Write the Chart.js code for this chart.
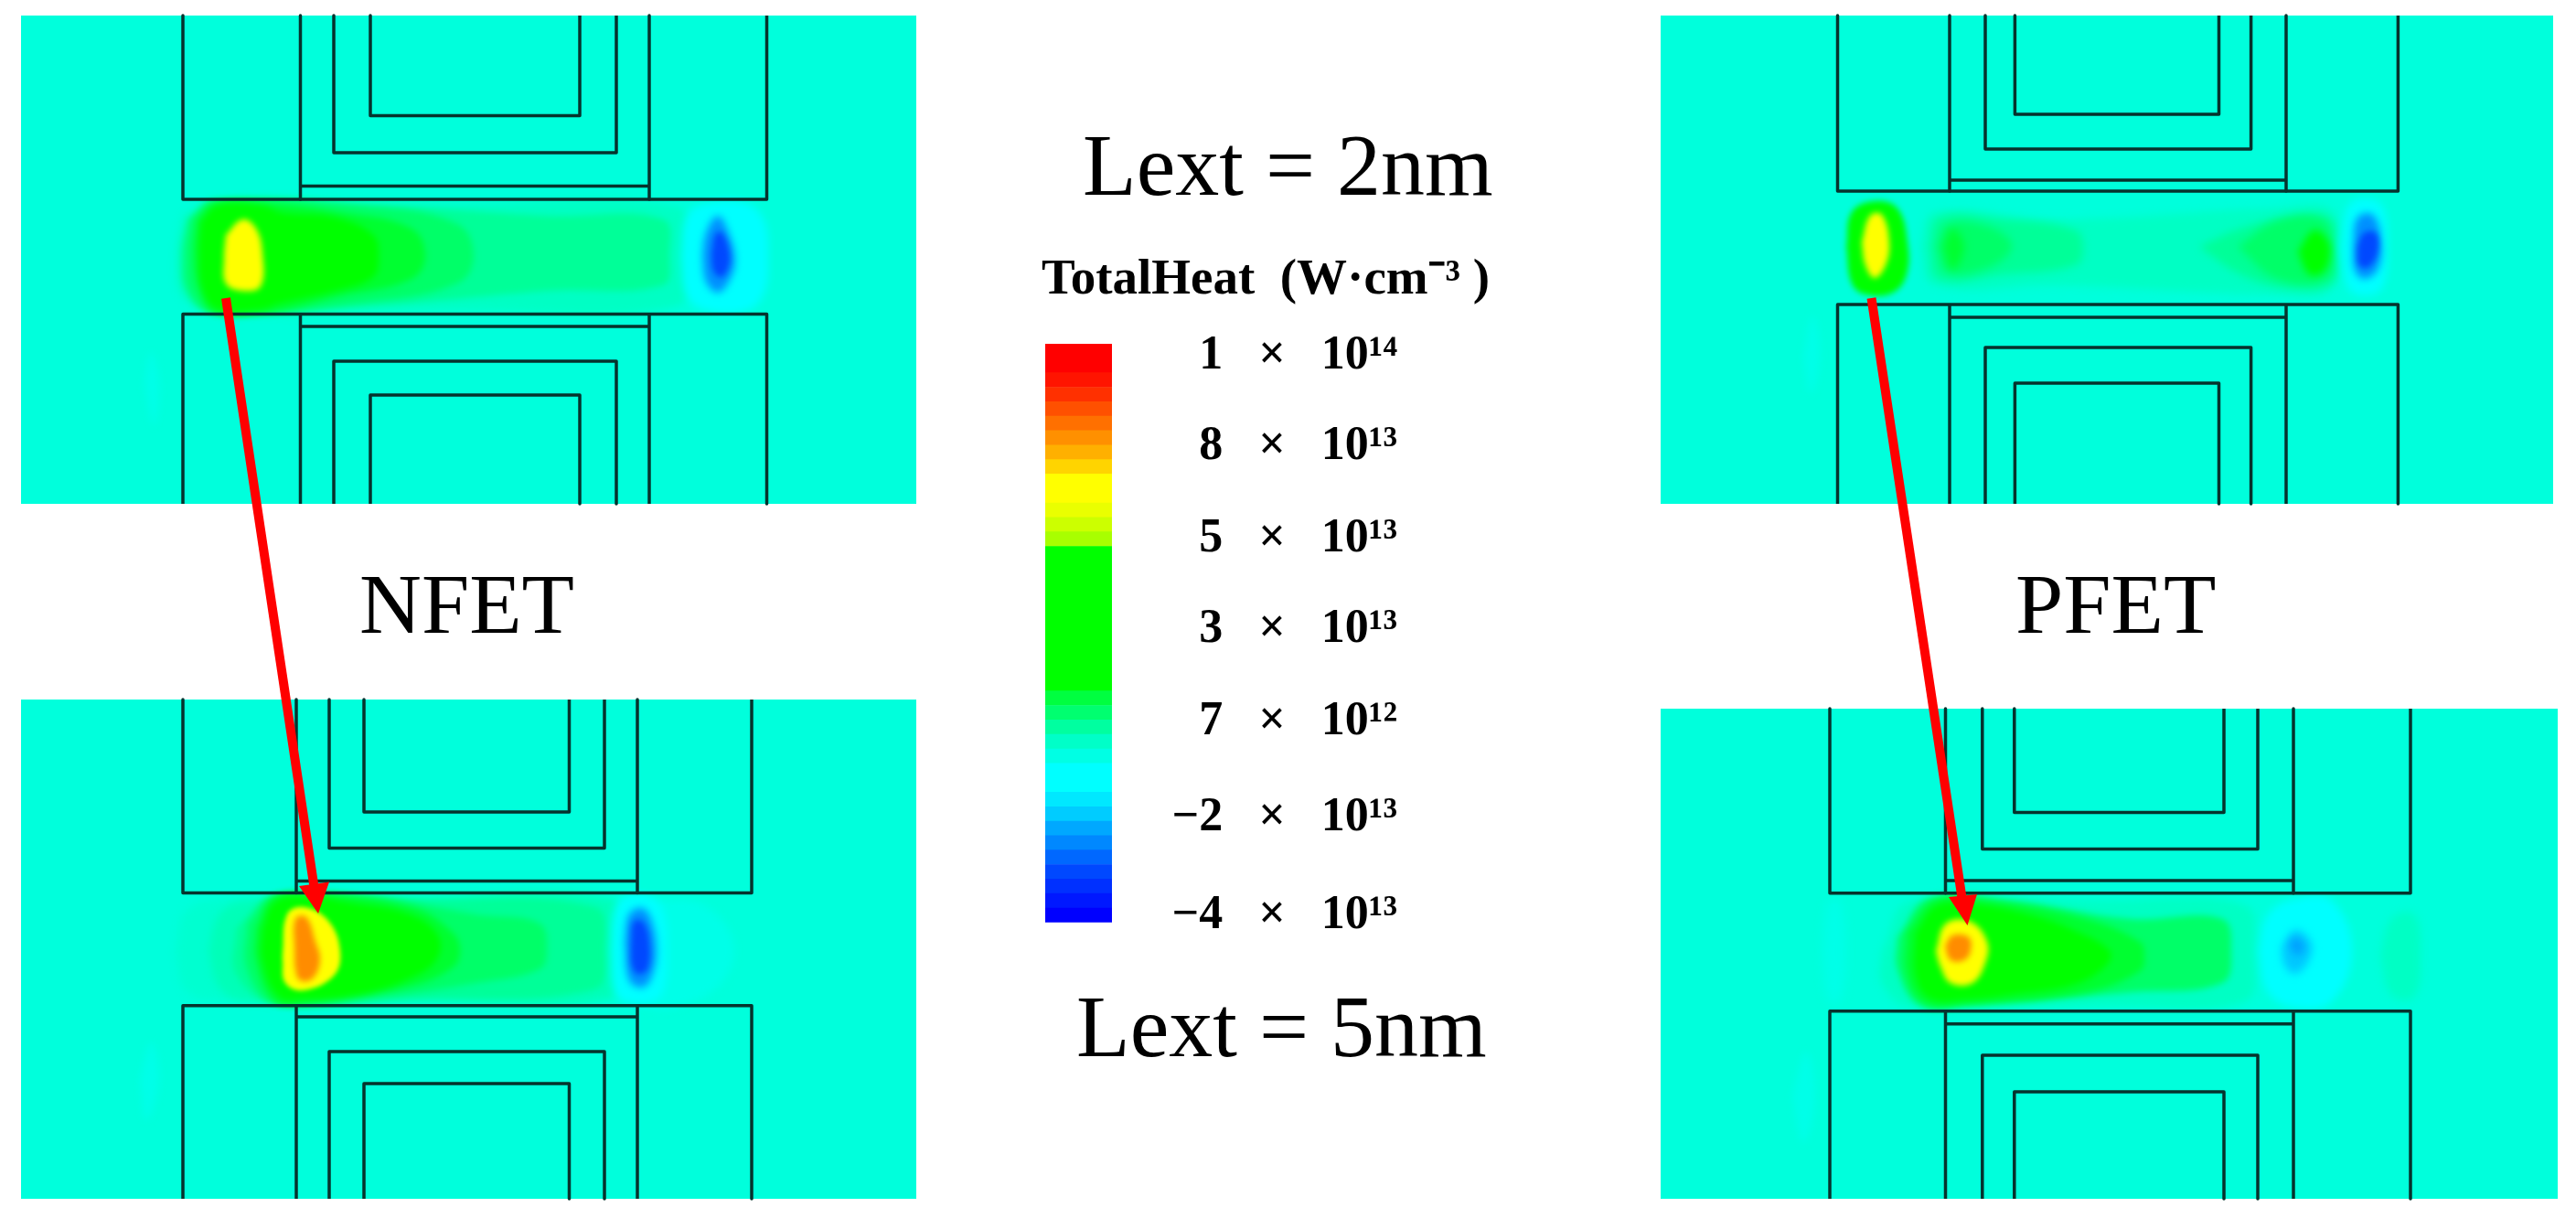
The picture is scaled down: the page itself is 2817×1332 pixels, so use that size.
<!DOCTYPE html>
<html><head><meta charset="utf-8">
<style>html,body{margin:0;padding:0;background:#fff;width:2817px;height:1332px;overflow:hidden}canvas{position:absolute;display:block}</style>
<script src="https://cdn.jsdelivr.net/npm/chart.js@4"></script>
</head><body>
<canvas id="main" width="2817" height="1332" style="left:0;top:0"></canvas>
<canvas id="bar" width="428" height="700" style="left:1100px;top:340px"></canvas>
<script>
// ---- level colours of the heat field
const C_FAINT='#00ffc4', C_PALE='#00ff98', C_MID='#00ff68', C_NEAR='#00ff30', C_GREEN='#00ff00',
      C_YELLOW='#ffff00', C_ORANGE='#ff8c00', C_CYAN='#00ffff', C_HALO='#00ffe8', C_SKY='#0090ff', C_BLUE='#0048ff';
const PANEL_COLOR='#00ffdc', LINE_COLOR='#06332d', ARROW_COLOR='#ff0000';

// ---- panels [left,right,top,bottom]
const panelNfet2=[23,1002,17,551], panelNfet5=[23,1002,765,1311], panelPfet2=[1816,2792,17,551], panelPfet5=[1816,2797,775,1311];

// ---- device outline positions: eight verticals, then upper (bottom,thin,second,inner) and lower (top,thin,second,inner) rows
const vNfet2=[200,328.5,365,405,634,674,710,838.5], uNfet2=[218,203.6,167,126.5], lNfet2=[343.5,357,395,432];
const vNfet5=[200,324,360,398,622.5,661,697,822],   uNfet5=[976.4,963.4,927.4,888], lNfet5=[1099.7,1112,1150,1185];
const vPfet2=[2009.5,2132,2171,2203.4,2426.5,2461.6,2500,2622.4], uPfet2=[209,197,163,125], lPfet2=[333,347,380,419];
const vPfet5=[2001,2127.5,2167.8,2202.8,2432,2469,2508,2636],     uPfet5=[976.7,963,928.5,888.4], lPfet5=[1105.8,1119.7,1154,1194];

// ---- heat contours, NFET Lext = 2nm
const n2Faint=[[200,235],[235,219],[500,222],[740,226],[752,280],[740,335],[500,340],[235,342],[200,325],[193,280]];
const n2Pale=[[205,240],[235,219],[400,224],[600,236],[725,240],[732,280],[725,312],[600,318],[400,335],[235,342],[205,322],[198,280]];
const n2Mid=[[208,240],[235,220],[400,226],[500,245],[518,280],[500,310],[400,330],[235,342],[208,320],[203,280]];
const n2Near=[[215,240],[235,222],[290,222],[370,232],[450,250],[465,280],[450,305],[370,324],[290,342],[235,342],[218,318],[212,280]];
const n2Green=[[220,243],[238,225],[287,225],[309,233],[367,238],[408,257],[414,280],[408,303],[367,318],[305,332],[287,338],[238,338],[222,317],[218,277]];
const n2Yellow=[[247,257],[265,240],[280,250],[287,277],[285,313],[265,318],[247,310],[245,283]];
const n2Cyan=[[745,280],[752,235],[775,222],[815,222],[835,240],[840,280],[835,322],[815,340],[775,340],[752,325]];
const n2Sky=[[768,280],[772,255],[785,236],[797,255],[804,285],[797,308],[785,320],[772,308]];
const n2Blue=[[778,278],[783,255],[790,255],[798,280],[794,298],[787,303],[780,295]];
const n2Halo=[[158,420],[165,385],[174,420],[168,465]];

// ---- heat contours, NFET Lext = 5nm
const n5Far=[[192,1040],[205,995],[260,982],[450,980],[670,982],[675,1040],[670,1092],[450,1096],[260,1095],[205,1085]];
const n5Faint=[[228,1040],[240,1000],[270,985],[450,982],[670,985],[675,1040],[670,1090],[450,1094],[270,1095],[240,1080]];
const n5Pale=[[258,1015],[300,980],[450,984],[650,992],[662,1040],[650,1082],[450,1092],[300,1097],[258,1065]];
const n5Mid=[[270,1010],[300,980],[400,980],[520,1000],[590,1010],[598,1040],[590,1060],[520,1075],[400,1092],[300,1097],[270,1060]];
const n5Near=[[280,1015],[298,982],[332,977],[450,992],[495,1020],[503,1040],[495,1058],[450,1078],[332,1097],[300,1095],[280,1050]];
const n5Green=[[287,1017],[300,987],[332,980],[381,987],[448,1000],[479,1023],[477,1050],[448,1070],[394,1087],[332,1093],[305,1090],[287,1050]];
const n5Yellow=[[309,1043],[314,1000],[332,992],[359,1007],[372,1040],[365,1067],[332,1083],[312,1075],[309,1050]];
const n5Orange=[[322,1040],[323,1005],[335,1003],[345,1030],[350,1050],[342,1070],[328,1072],[323,1060]];
const n5HaloWide=[[700,985],[770,990],[803,1040],[770,1090],[700,1095]];
const n5Cyan=[[668,1040],[672,995],[685,980],[710,980],[725,995],[730,1040],[725,1085],[710,1096],[685,1096],[672,1085]];
const n5Sky=[[683,1030],[688,1000],[702,993],[712,1005],[718,1040],[712,1070],[702,1080],[688,1072]];
const n5Blue=[[690,1035],[693,1008],[703,1008],[710,1030],[708,1060],[697,1065],[691,1055]];
const n5Halo=[[153,1180],[165,1140],[174,1180],[160,1225]];

// ---- heat contours, PFET Lext = 2nm
const p2Faint=[[2100,270],[2115,232],[2250,240],[2480,228],[2548,228],[2555,270],[2548,318],[2480,322],[2250,312],[2115,312]];
const p2PaleL=[[2110,270],[2120,238],[2190,240],[2270,252],[2278,272],[2270,290],[2190,300],[2120,305]];
const p2MidL=[[2118,270],[2130,245],[2175,248],[2200,268],[2180,290],[2130,298]];
const p2NearL=[[2125,270],[2135,250],[2148,270],[2135,295]];
const p2PaleR=[[2405,270],[2450,250],[2520,234],[2550,240],[2553,270],[2550,310],[2500,315],[2450,300]];
const p2MidR=[[2447,270],[2490,242],[2540,240],[2550,270],[2545,305],[2490,305]];
const p2GreenR=[[2513,275],[2530,252],[2545,262],[2548,280],[2540,298],[2525,300]];
const p2Green=[[2019,270],[2025,232],[2050,220],[2075,228],[2086,265],[2085,300],[2070,320],[2040,322],[2025,310]];
const p2Yellow=[[2036,265],[2045,236],[2058,235],[2066,265],[2062,290],[2050,304],[2040,290]];
const p2Cyan=[[2561,270],[2568,225],[2585,217],[2605,225],[2611,270],[2605,315],[2585,323],[2568,315]];
const p2Sky=[[2573,270],[2578,238],[2595,235],[2604,265],[2600,295],[2585,305],[2575,295]];
const p2Blue=[[2578,270],[2585,255],[2598,255],[2600,275],[2590,292],[2580,290]];
const p2Halo=[[1972,390],[1982,345],[1990,390],[1980,430]];

// ---- heat contours, PFET Lext = 5nm
const p5Faint=[[2058,1040],[2090,985],[2300,985],[2455,990],[2465,1040],[2455,1095],[2300,1100],[2090,1102],[2058,1075]];
const p5Mid=[[2075,1025],[2110,982],[2200,985],[2330,1005],[2430,1005],[2440,1040],[2430,1075],[2330,1085],[2151,1100],[2100,1100],[2075,1060]];
const p5Near=[[2085,1020],[2115,985],[2170,985],[2280,1005],[2340,1030],[2345,1045],[2340,1062],[2280,1085],[2151,1098],[2105,1097],[2085,1065]];
const p5Green=[[2095,1020],[2119,990],[2164,990],[2218,1000],[2267,1017],[2307,1040],[2302,1057],[2267,1077],[2204,1087],[2151,1093],[2111,1092],[2095,1067]];
const p5Yellow=[[2117,1040],[2128,1010],[2155,1008],[2173,1030],[2171,1053],[2157,1075],[2133,1075],[2122,1057]];
const p5Orange=[[2127,1035],[2135,1023],[2153,1025],[2155,1040],[2148,1050],[2133,1050]];
const p5Cyan=[[2470,1040],[2480,1000],[2510,983],[2550,985],[2572,1040],[2550,1095],[2510,1102],[2480,1085]];
const p5Sky=[[2495,1035],[2510,1017],[2527,1030],[2525,1050],[2510,1065],[2498,1055]];
const p5Blue=[[2503,1033],[2510,1025],[2520,1035],[2512,1045]];
const p5Right=[[2603,1045],[2615,1005],[2640,1000],[2647,1045],[2640,1090],[2615,1088]];
const p5Left=[[1993,1040],[2000,985],[2012,985],[2018,1040],[2012,1095],[2000,1095]];
const p5Halo=[[1960,1200],[1975,1150],[1985,1200],[1972,1250]];

// ---- arrows
const arrowNfetShaft=[[247,326],[343.5,970]], arrowNfetHead=[[327,969],[360,964.5],[348,999]];
const arrowPfetShaft=[[2046.5,326],[2146,985]], arrowPfetHead=[[2131,981],[2162,978],[2151.5,1012]];

// ---- annotation text
const noteLabels=['Lext = 2nm','Lext = 5nm','NFET','PFET','TotalHeat  (W·cm⁻³ )'];
const noteX=[1184,1177,393,2204,1139];
const noteY=[213,1155,692,692,321];
const noteFonts=['96px "Liberation Serif"','96px "Liberation Serif"','94px "Liberation Serif"','94px "Liberation Serif"','bold 55px "Liberation Serif"'];

// ---- colour bar
const tickLabels=['1   ×   10¹⁴','8   ×   10¹³','5   ×   10¹³','3   ×   10¹³','7   ×   10¹²','−2   ×   10¹³','−4   ×   10¹³'];
const tickPositions=[97.9,82.2,66.3,50.6,34.7,18,1.2];
const bandColors=['#ff0000','#ff0000','#ff1400','#ff3000','#ff5000','#ff7000','#ff9000','#ffb000','#ffd400','#ffff00','#ffff00','#eaff00','#ccff00','#a8ff00',
 '#00ff00','#00ff00','#00ff00','#00ff00','#00ff00','#00ff00','#00ff00','#00ff00','#00ff00','#00ff00',
 '#00ff40','#00ff70','#00ffa0','#00ffc8','#00ffe4','#00ffff','#00ffff','#00e8ff','#00ccff','#00a8ff','#0088ff','#0068ff','#0048ff','#0030ff','#0018ff','#0000ff'];
const bandHeight=2.5;

// ---- helpers: turn the arrays above into datasets
const toPts=a=>a.map(p=>({x:p[0],y:p[1]}));
const closed=a=>toPts(a.concat([a[0]]));
const all=[];
function add(ds){all.push(Object.assign({showLine:true,pointRadius:0,pointHoverRadius:0,clip:false},ds));}
function shape(a,color,blur,tension){add({data:closed(a),fill:'shape',backgroundColor:color,borderWidth:0,borderColor:'transparent',tension:tension,blur:blur});}
function rectOf(p){return [[p[0],p[2]],[p[1],p[2]],[p[1],p[3]],[p[0],p[3]]];}
function contour(list){list.forEach(l=>shape(l[0],l[1],l[2]||3.5,0.4));}
function poly(a){add({data:toPts(a),fill:false,borderColor:LINE_COLOR,borderWidth:3.5,tension:0,borderJoinStyle:'round',borderCapStyle:'butt'});}
function outlines(p,v,u,l){
  const t=p[2],b=p[3];
  poly([[v[0],t],[v[0],u[0]],[v[7],u[0]],[v[7],t]]);
  poly([[v[1],t],[v[1],u[0]]]); poly([[v[6],t],[v[6],u[0]]]);
  poly([[v[1],u[1]],[v[6],u[1]]]);
  poly([[v[2],t],[v[2],u[2]],[v[5],u[2]],[v[5],t]]);
  poly([[v[3],t],[v[3],u[3]],[v[4],u[3]],[v[4],t]]);
  poly([[v[0],b],[v[0],l[0]],[v[7],l[0]],[v[7],b]]);
  poly([[v[1],b],[v[1],l[0]]]); poly([[v[6],b],[v[6],l[0]]]);
  poly([[v[1],l[1]],[v[6],l[1]]]);
  poly([[v[2],b],[v[2],l[2]],[v[5],l[2]],[v[5],b]]);
  poly([[v[3],b],[v[3],l[3]],[v[4],l[3]],[v[4],b]]);
}
function arrow(sh,head){
  add({data:toPts(sh),fill:false,borderColor:ARROW_COLOR,borderWidth:10,tension:0});
  shape(head,ARROW_COLOR,0,0);
}

[panelNfet2,panelNfet5,panelPfet2,panelPfet5].forEach(p=>shape(rectOf(p),PANEL_COLOR,0,0));
contour([[n2Halo,C_HALO,4],[n2Faint,C_FAINT,5],[n2Pale,C_PALE],[n2Mid,C_MID],[n2Near,C_NEAR],[n2Green,C_GREEN],[n2Yellow,C_YELLOW,3],[n2Cyan,C_CYAN,5],[n2Sky,C_SKY,4],[n2Blue,C_BLUE,3]]);
contour([[n5Halo,C_HALO,4],[n5Far,'#00ffd0',5],[n5Faint,'#00ffb8',5],[n5Pale,C_PALE],[n5Mid,C_MID],[n5Near,C_NEAR],[n5Green,C_GREEN],[n5Yellow,C_YELLOW,2.5],[n5Orange,C_ORANGE,3],[n5HaloWide,C_HALO,5],[n5Cyan,C_CYAN,5],[n5Sky,C_SKY,4],[n5Blue,C_BLUE,3]]);
contour([[p2Halo,C_HALO,4],[p2Faint,C_FAINT,5],[p2PaleL,C_PALE,5],[p2MidL,C_MID,5],[p2NearL,C_NEAR,5],[p2PaleR,C_PALE,5],[p2MidR,C_MID,5],[p2GreenR,C_GREEN,4],[p2Green,C_GREEN,3],[p2Yellow,C_YELLOW,3],[p2Cyan,C_CYAN,5],[p2Sky,C_SKY,4],[p2Blue,C_BLUE,3]]);
contour([[p5Halo,C_HALO,4],[p5Left,C_HALO,6],[p5Faint,C_FAINT,5],[p5Mid,C_MID],[p5Near,C_NEAR],[p5Green,C_GREEN],[p5Yellow,C_YELLOW,3],[p5Orange,C_ORANGE,3],[p5Right,C_FAINT,5],[p5Cyan,C_CYAN,5],[p5Sky,'#00c8ff',5],[p5Blue,'#00a0ff',4]]);
outlines(panelNfet2,vNfet2,uNfet2,lNfet2);
outlines(panelNfet5,vNfet5,uNfet5,lNfet5);
outlines(panelPfet2,vPfet2,uPfet2,lPfet2);
outlines(panelPfet5,vPfet5,uPfet5,lPfet5);
arrow(arrowNfetShaft,arrowNfetHead);
arrow(arrowPfetShaft,arrowPfetHead);
// first defined is painted first
all.forEach((d,i)=>{d.order=all.length-i;});

// The blur has to be set before the Filler plugin paints, so it is registered ahead of it.
const filler=Chart.registry.getPlugin('filler');
Chart.unregister(filler);
Chart.register({id:'softContours',
  beforeDatasetDraw(chart,args){const b=chart.data.datasets[args.index].blur; chart.ctx.filter=b?`blur(${b}px)`:'none';},
  afterDatasetDraw(chart){chart.ctx.filter='none';}});
Chart.register(filler);

const notes={id:'notes',afterDraw(chart){
  const c=chart.ctx,sx=chart.scales.x,sy=chart.scales.y;
  c.save();c.fillStyle='#000';c.textAlign='left';c.textBaseline='alphabetic';
  noteLabels.forEach((t,i)=>{c.font=noteFonts[i];c.fillText(t,sx.getPixelForValue(noteX[i]),sy.getPixelForValue(noteY[i]));});
  c.restore();
}};

new Chart(document.getElementById('main'),{type:'scatter',data:{datasets:all},plugins:[notes],options:{
  responsive:false,animation:false,devicePixelRatio:1,layout:{padding:0},
  plugins:{legend:{display:false},tooltip:{enabled:false}},
  scales:{x:{type:'linear',display:false,min:0,max:2817},y:{type:'linear',display:false,min:0,max:1332,reverse:true}}
}});

// colour bar: stacked bands with a real value axis on its right; the stack grows upward, so the last colour goes first
const bandSets=bandColors.map(c=>({data:[bandHeight],backgroundColor:c,borderWidth:0,stack:'s',categoryPercentage:1,barPercentage:1})).reverse();
new Chart(document.getElementById('bar'),{type:'bar',data:{labels:['TotalHeat'],datasets:bandSets},options:{
  responsive:false,animation:false,devicePixelRatio:1,
  layout:{padding:{left:43,right:0,top:36,bottom:27}},
  plugins:{legend:{display:false},tooltip:{enabled:false},filler:false},
  scales:{
    x:{display:false,stacked:true},
    y:{position:'right',stacked:true,min:0,max:100,
       grid:{display:false,drawTicks:false},border:{display:false},
       afterFit(a){a.width=312;},
       afterBuildTicks(a){a.ticks=tickPositions.map(v=>({value:v}));},
       ticks:{autoSkip:false,crossAlign:'far',padding:0,color:'#000',font:{family:'"Liberation Serif"',size:52,weight:'bold'},
              callback(v){return tickLabels[tickPositions.indexOf(v)];}}}
  }
}});
</script>
</body></html>
